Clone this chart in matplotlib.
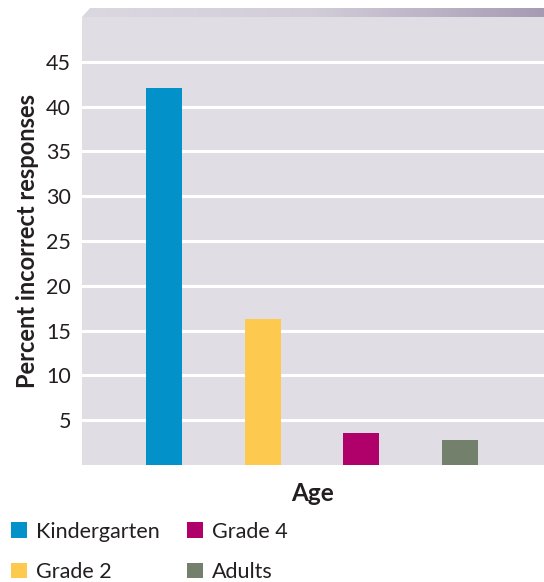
import numpy as np
import matplotlib.pyplot as plt
from matplotlib.patches import Patch, Polygon
from matplotlib.colors import LinearSegmentedColormap

groups = ["Kindergarten", "Grade 2", "Grade 4", "Adults"]
pct_wrong = [42.1, 16.3, 3.6, 2.8]
colors = ["#0391c9", "#fdc94f", "#b0006a", "#72806c"]
yticks = [5, 10, 15, 20, 25, 30, 35, 40, 45]

plt.rcParams['font.family'] = ['Lato', 'DejaVu Sans']
ink = "#231f20"

W, H = 544, 582
fig = plt.figure(figsize=(W / 100, H / 100), dpi=100)
ax = fig.add_axes([82 / W, (H - 465) / H, 462 / W, 448 / H])
ax.set_facecolor("#e0dde5")

x = np.arange(len(groups))
ax.bar(x, pct_wrong, width=0.365, color=colors, zorder=3)

ax.set_xlim(-0.83, 3.85)
ax.set_ylim(0, 50)
ax.set_yticks(yticks)
ax.set_yticklabels([str(t) for t in yticks], fontsize=15.5, color=ink)
ax.set_xticks([])
ax.tick_params(axis="y", length=0, pad=8)
ax.grid(axis="y", color="white", lw=2.2, zorder=1)
for s in ax.spines.values():
    s.set_visible(False)

ax.set_ylabel("Percent incorrect responses", fontsize=17, fontweight="bold",
              color=ink, labelpad=5)
ax.set_xlabel("Age", fontsize=17.5, fontweight="bold", color=ink, labelpad=12)

# bevelled top edge with a horizontal gradient
band = fig.add_axes([82 / W, (H - 17) / H, 462 / W, 9 / H])
band.axis("off")
grad = np.linspace(0, 1, 256).reshape(1, -1)
cmap = LinearSegmentedColormap.from_list("bevel", ["#dcd8e2", "#d2cdd9", "#a79bb3"])
im = band.imshow(grad, aspect="auto", cmap=cmap, extent=[0, 1, 0, 1])
clip = Polygon([[0, 0], [8 / 462, 1], [1, 1], [1, 0]], closed=True,
               transform=band.transAxes, facecolor="none", edgecolor="none")
band.add_patch(clip)
im.set_clip_path(clip)

handles = [Patch(facecolor=c, edgecolor="none") for c in colors]
fig.legend(handles, groups, loc="upper left", bbox_to_anchor=(-0.015, 0.137),
           ncol=2, frameon=False, fontsize=15.5, handlelength=0.72, handleheight=0.72,
           handletextpad=0.45, columnspacing=1.25, labelspacing=0.95,
           labelcolor=ink)

fig.savefig("out.png", dpi=100)
